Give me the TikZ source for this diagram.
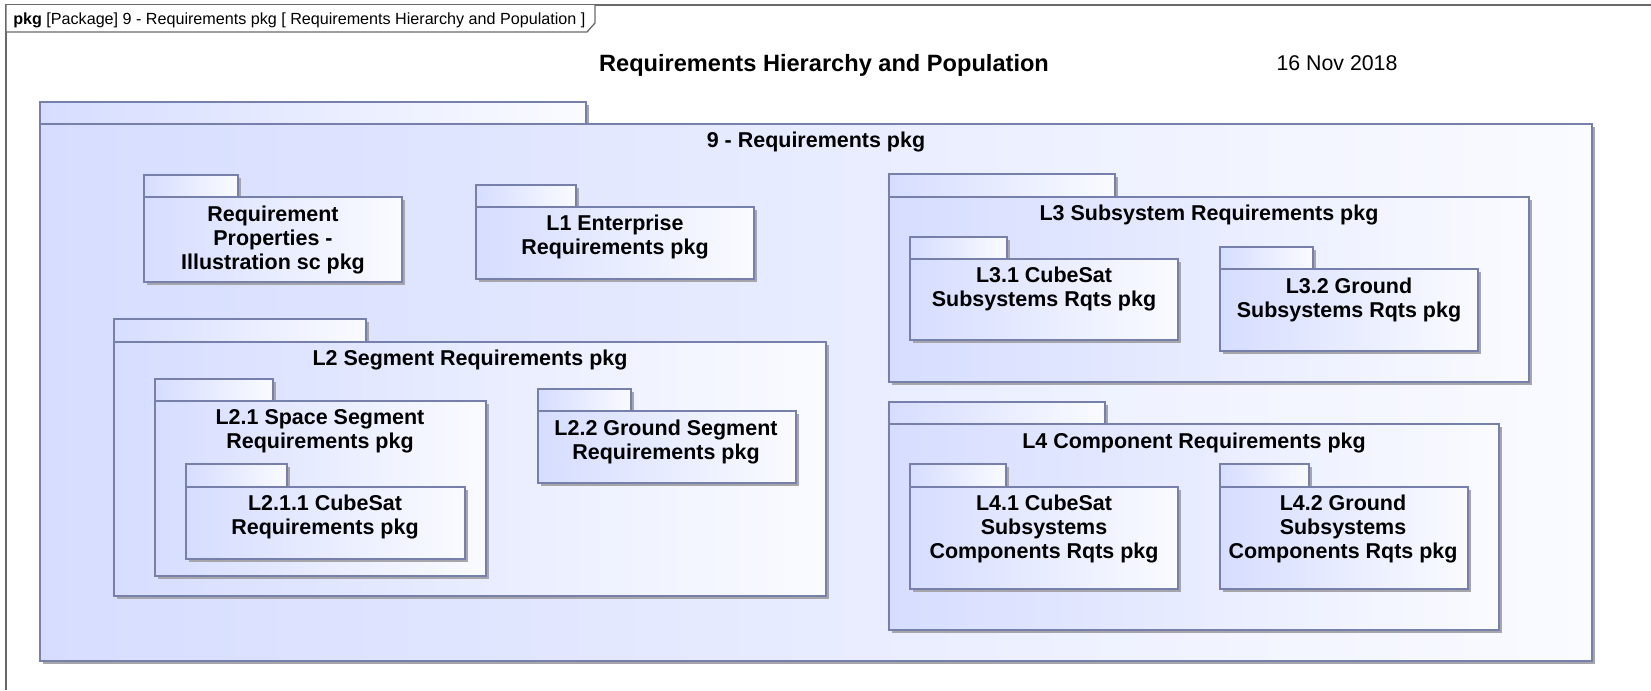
\documentclass[tikz,border=0pt]{standalone}
\usepackage{fontspec}
\setmainfont{Liberation Sans}
\usepackage{xcolor}
\usetikzlibrary{positioning}
\definecolor{pkgline}{RGB}{118,128,170}
\definecolor{pkgblue}{RGB}{214,221,255}
\definecolor{pkgwhite}{RGB}{250,251,255}
\definecolor{shadowgray}{RGB}{165,165,170}
\definecolor{framegray}{RGB}{105,105,105}
\tikzset{
    pkglabel/.style={font=\fontsize{16.1}{18}\selectfont\bfseries, align=center, inner sep=0pt},
    pkgpart/.style={draw=pkgline, line width=1pt, left color=pkgblue, right color=pkgwhite}
}
% package: tab (x1,y1)-(tx,yb), body (x1,yb)-(x2,y2), with drop shadow
\newcommand{\pkgbox}[6]{%
    \fill[shadowgray] (#1+3,#2+3) rectangle (#3+3,#4+3);
    \fill[shadowgray] (#1+3,#4+3) rectangle (#5+3,#6+3);
    \path[pkgpart] (#1,#2) rectangle (#3,#4);
    \path[pkgpart] (#1,#4) rectangle (#5,#6);
}

\begin{document}
\begin{tikzpicture}[x=0.75pt, y=-0.75pt]
    \useasboundingbox (0,0) rectangle (1651,690);
    \fill[white] (0,0) rectangle (1651,690);

    % Diagram frame and header
    \draw[framegray, line width=1pt] (6,690) -- (6,5) -- (1651,5);
    \draw[framegray, line width=1pt, fill=white] (6,5) -- (6,32) -- (587,32) -- (595,23) -- (595,5);
    \node[anchor=base west, inner sep=0pt, font=\fontsize{12.1}{14}\selectfont] (hdr) at (13,24)
        {\textbf{pkg} [Package] 9 - Requirements pkg [ Requirements Hierarchy and Population ]};

    % Title and date
    \node[font=\fontsize{17.7}{20}\selectfont\bfseries] (title) at (824,65) {Requirements Hierarchy and Population};
    \node[font=\fontsize{16}{18}\selectfont] (date) at (1337,63) {16 Nov 2018};

    % Top package
    \pkgbox{40}{102}{586}{124}{1592}{661}
    \node[pkglabel] (main) at (816,142) {9 - Requirements pkg};

    % Requirement properties
    \pkgbox{144}{175}{238}{197}{402}{282}
    \node[pkglabel] (reqprops) at (273,240) {Requirement\\Properties -\\Illustration sc pkg};

    % L1
    \pkgbox{476}{185}{576}{207}{754}{279}
    \node[pkglabel] (l1) at (615,237) {L1 Enterprise\\Requirements pkg};

    % L2 and its children
    \pkgbox{114}{319}{366}{342}{826}{596}
    \node[pkglabel] (l2) at (470,360) {L2 Segment Requirements pkg};
    \pkgbox{155}{379}{273}{401}{486}{576}
    \node[pkglabel] (l21) at (320,431) {L2.1 Space Segment\\Requirements pkg};
    \pkgbox{186}{464}{287}{487}{465}{559}
    \node[pkglabel] (l211) at (325,517) {L2.1.1 CubeSat\\Requirements pkg};
    \pkgbox{538}{389}{631}{411}{796}{483}
    \node[pkglabel] (l22) at (666,442) {L2.2 Ground Segment\\Requirements pkg};

    % L3 and its children
    \pkgbox{889}{174}{1115}{197}{1529}{382}
    \node[pkglabel] (l3) at (1209,215) {L3 Subsystem Requirements pkg};
    \pkgbox{910}{237}{1007}{259}{1178}{340}
    \node[pkglabel] (l31) at (1044,289) {L3.1 CubeSat\\Subsystems Rqts pkg};
    \pkgbox{1220}{247}{1313}{269}{1478}{351}
    \node[pkglabel] (l32) at (1349,300) {L3.2 Ground\\Subsystems Rqts pkg};

    % L4 and its children
    \pkgbox{889}{402}{1105}{424}{1499}{630}
    \node[pkglabel] (l4) at (1194,443) {L4 Component Requirements pkg};
    \pkgbox{910}{464}{1006}{487}{1178}{589}
    \node[pkglabel] (l41) at (1044,529) {L4.1 CubeSat\\Subsystems\\Components Rqts pkg};
    \pkgbox{1220}{464}{1309}{487}{1468}{589}
    \node[pkglabel] (l42) at (1343,529) {L4.2 Ground\\Subsystems\\Components Rqts pkg};
\end{tikzpicture}
\end{document}
